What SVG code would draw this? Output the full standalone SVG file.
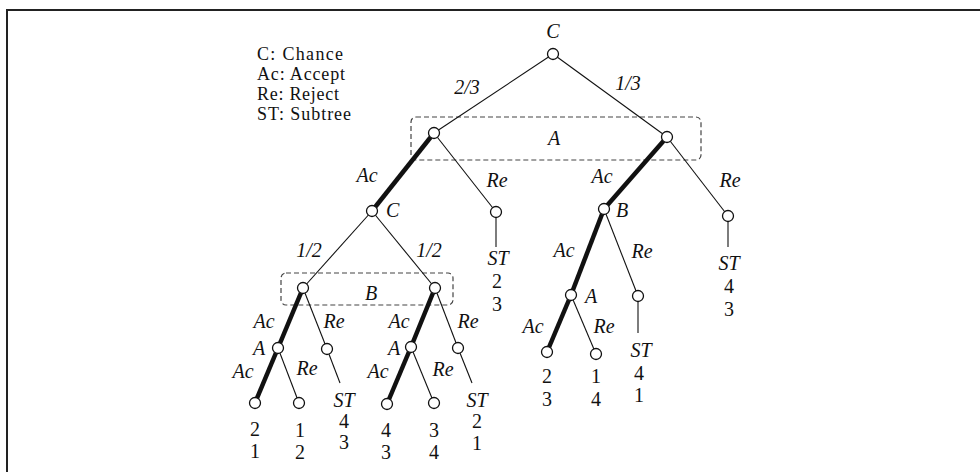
<svg xmlns="http://www.w3.org/2000/svg" width="980" height="472" viewBox="0 0 980 472">
<style>
.t{font-family:"Liberation Serif","Times New Roman",serif;font-size:20px;fill:#111}
.lg{font-size:18px}
.i{font-style:italic}
.m{text-anchor:middle}
.e{stroke:#111;stroke-width:1.1;fill:none}
.k{stroke:#111;stroke-width:4.5;fill:none}
.n{fill:#fff;stroke:#111;stroke-width:1.3}
.box{fill:none;stroke:#444;stroke-width:1.2;stroke-dasharray:5,3}
</style>
<rect width="980" height="472" fill="#fff"/>
<path d="M7,472 V10 H980" fill="none" stroke="#222" stroke-width="2"/>
<g id="legend" class="t lg">
<text x="257" y="60" textLength="86" lengthAdjust="spacing">C: Chance</text>
<text x="257" y="80" textLength="88" lengthAdjust="spacing">Ac: Accept</text>
<text x="257" y="100" textLength="82" lengthAdjust="spacing">Re: Reject</text>
<text x="257" y="120" textLength="94" lengthAdjust="spacing">ST: Subtree</text>
</g>
<g id="infosets">
<rect class="box" x="411" y="117" width="290" height="43" rx="5"/>
<text class="t i m" x="554" y="145">A</text>
<rect class="box" x="281" y="273" width="172" height="32" rx="5"/>
<text class="t i m" x="371" y="300">B</text>
</g>
<g id="connectors">
<line class="e" x1="553" y1="54" x2="434" y2="133"/>
<line class="e" x1="553" y1="54" x2="667" y2="137"/>
<line class="k" x1="434" y1="133" x2="372" y2="211"/>
<line class="e" x1="434" y1="133" x2="496" y2="212"/>
<line class="e" x1="496" y1="212" x2="496" y2="247"/>
<line class="k" x1="667" y1="137" x2="604" y2="209"/>
<line class="e" x1="667" y1="137" x2="728" y2="216"/>
<line class="e" x1="728" y1="216" x2="728" y2="247"/>
<line class="e" x1="372" y1="211" x2="303" y2="288"/>
<line class="e" x1="372" y1="211" x2="435" y2="288"/>
<line class="k" x1="604" y1="209" x2="571" y2="295"/>
<line class="e" x1="604" y1="209" x2="638" y2="296"/>
<line class="e" x1="638" y1="296" x2="638" y2="333"/>
<line class="k" x1="571" y1="295" x2="547" y2="352"/>
<line class="e" x1="571" y1="295" x2="596" y2="354"/>
<line class="k" x1="303" y1="288" x2="278" y2="348"/>
<line class="e" x1="303" y1="288" x2="327" y2="349"/>
<line class="e" x1="327" y1="349" x2="340" y2="383"/>
<line class="k" x1="278" y1="348" x2="255" y2="403"/>
<line class="e" x1="278" y1="348" x2="299" y2="403"/>
<line class="k" x1="435" y1="288" x2="411" y2="347"/>
<line class="e" x1="435" y1="288" x2="458" y2="348"/>
<line class="e" x1="458" y1="348" x2="472" y2="383"/>
<line class="k" x1="411" y1="347" x2="387" y2="404"/>
<line class="e" x1="411" y1="347" x2="434" y2="403"/>
</g>
<g id="edge-labels" class="t i m">
<text x="467" y="94">2/3</text>
<text x="628" y="90">1/3</text>
<text x="367" y="182">Ac</text>
<text x="497" y="187">Re</text>
<text x="602" y="183">Ac</text>
<text x="730" y="187">Re</text>
<text x="309" y="257">1/2</text>
<text x="429" y="257">1/2</text>
<text x="564" y="257">Ac</text>
<text x="642" y="258">Re</text>
<text x="533" y="333">Ac</text>
<text x="604" y="333">Re</text>
<text x="264" y="328">Ac</text>
<text x="334" y="328">Re</text>
<text x="243" y="378">Ac</text>
<text x="307" y="375">Re</text>
<text x="399" y="328">Ac</text>
<text x="468" y="328">Re</text>
<text x="378" y="378">Ac</text>
<text x="443" y="376">Re</text>
</g>
<g id="root"><circle class="n" cx="553" cy="54" r="5.5"/><text class="t i m" x="553" y="38">C</text></g>
<g id="nA1"><circle class="n" cx="434" cy="133" r="5.5"/></g>
<g id="nA2"><circle class="n" cx="667" cy="137" r="5.5"/></g>
<g id="nC2"><circle class="n" cx="372" cy="211" r="5.5"/><text class="t i" x="386" y="217">C</text></g>
<g id="nRe1"><circle class="n" cx="496" cy="212" r="5.5"/>
<text class="t i m" x="498" y="265">ST</text><text class="t m" x="497" y="288">2</text><text class="t m" x="497" y="311">3</text></g>
<g id="nB1"><circle class="n" cx="604" cy="209" r="5.5"/><text class="t i" x="616" y="217">B</text></g>
<g id="nRe2"><circle class="n" cx="728" cy="216" r="5.5"/>
<text class="t i m" x="729" y="270">ST</text><text class="t m" x="729" y="293">4</text><text class="t m" x="729" y="316">3</text></g>
<g id="nB2"><circle class="n" cx="303" cy="288" r="5.5"/></g>
<g id="nB3"><circle class="n" cx="435" cy="288" r="5.5"/></g>
<g id="nA3"><circle class="n" cx="571" cy="295" r="5.5"/><text class="t i" x="585" y="303">A</text></g>
<g id="nRe3"><circle class="n" cx="638" cy="296" r="5.5"/>
<text class="t i m" x="641" y="357">ST</text><text class="t m" x="639" y="380">4</text><text class="t m" x="639" y="402">1</text></g>
<g id="leaf5"><circle class="n" cx="547" cy="352" r="5.5"/><text class="t m" x="547" y="383">2</text><text class="t m" x="547" y="406">3</text></g>
<g id="leaf6"><circle class="n" cx="596" cy="354" r="5.5"/><text class="t m" x="596" y="383">1</text><text class="t m" x="596" y="406">4</text></g>
<g id="nA4"><circle class="n" cx="278" cy="348" r="5.5"/><text class="t i" x="253" y="355">A</text></g>
<g id="nRe4"><circle class="n" cx="327" cy="349" r="5.5"/>
<text class="t i m" x="344" y="407">ST</text><text class="t m" x="344" y="428">4</text><text class="t m" x="344" y="449">3</text></g>
<g id="leaf1"><circle class="n" cx="255" cy="403" r="5.5"/><text class="t m" x="255" y="436">2</text><text class="t m" x="255" y="458">1</text></g>
<g id="leaf2"><circle class="n" cx="299" cy="403" r="5.5"/><text class="t m" x="300" y="437">1</text><text class="t m" x="300" y="459">2</text></g>
<g id="nA5"><circle class="n" cx="411" cy="347" r="5.5"/><text class="t i" x="388" y="355">A</text></g>
<g id="nRe5"><circle class="n" cx="458" cy="348" r="5.5"/>
<text class="t i m" x="477" y="407">ST</text><text class="t m" x="477" y="428">2</text><text class="t m" x="477" y="450">1</text></g>
<g id="leaf3"><circle class="n" cx="387" cy="404" r="5.5"/><text class="t m" x="386" y="437">4</text><text class="t m" x="386" y="459">3</text></g>
<g id="leaf4"><circle class="n" cx="434" cy="403" r="5.5"/><text class="t m" x="434" y="437">3</text><text class="t m" x="434" y="459">4</text></g>
</svg>
